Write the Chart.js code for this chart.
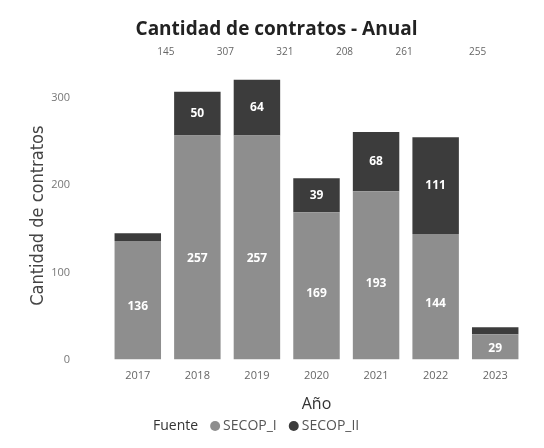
<!DOCTYPE html>
<html>
<head>
<meta charset="utf-8">
<script src="https://cdn.jsdelivr.net/npm/chart.js@4"></script>
<style>
  html, body { margin: 0; padding: 0; background: #fff; }
  #wrap { width: 544px; height: 448px; position: relative; }
</style>
</head>
<body>
<div id="wrap"><canvas id="myChart" width="544" height="448"></canvas></div>
<script>
const years = ['2017', '2018', '2019', '2020', '2021', '2022', '2023'];
const secopI = [136, 257, 257, 169, 193, 144, 29];
const secopII = [9, 50, 64, 39, 68, 111, 8];
const yTicks = [0, 100, 200, 300];

const colorI = '#8e8e8e';
const colorII = '#3c3c3c';

// white value labels inside segments + totals row under the title
const labelsPlugin = {
    id: 'labels',
    afterDatasetsDraw(chart) {
        const ctx = chart.ctx;
        ctx.save();
        ctx.font = 'bold 12px "Open Sans", sans-serif';
        ctx.fillStyle = '#ffffff';
        ctx.textAlign = 'center';
        ctx.textBaseline = 'middle';
        chart.data.datasets.forEach((ds, di) => {
            chart.getDatasetMeta(di).data.forEach((bar, i) => {
                const h = Math.abs(bar.base - bar.y);
                if (h < 20) return;
                const y = di === 0 ? bar.y + h * 0.55 : (bar.y + bar.base) / 2;
                ctx.fillText(String(ds.data[i]), bar.x, y);
            });
        });
        // totals row
        ctx.font = '10px "Open Sans", sans-serif';
        ctx.fillStyle = '#666';
        const meta = chart.getDatasetMeta(0);
        for (let i = 0; i < years.length - 1; i++) {
            const total = secopI[i] + secopII[i];
            const dx = i === years.length - 2 ? 42 : 28;
            ctx.fillText(String(total), meta.data[i].x + dx, 52);
        }
        ctx.restore();
    },
    afterDraw(chart) {
        // legend: "Fuente  ● SECOP_I  ● SECOP_II"
        const ctx = chart.ctx;
        ctx.save();
        ctx.font = '14px "Open Sans", sans-serif';
        ctx.textBaseline = 'middle';
        ctx.textAlign = 'left';
        let x = 153;
        const y = 426;
        ctx.fillStyle = '#333';
        ctx.fillText('Fuente', x, y);
        x += ctx.measureText('Fuente').width + 12;
        chart.data.datasets.forEach(ds => {
            ctx.fillStyle = ds.backgroundColor;
            ctx.beginPath();
            ctx.arc(x + 5, y, 5, 0, Math.PI * 2);
            ctx.fill();
            x += 13;
            ctx.fillStyle = '#555';
            ctx.fillText(ds.label, x, y);
            x += ctx.measureText(ds.label).width + 12;
        });
        ctx.restore();
    }
};

const ctx = document.getElementById('myChart').getContext('2d');
new Chart(ctx, {
    type: 'bar',
    data: {
        labels: years,
        datasets: [
            { label: 'SECOP_I', data: secopI, backgroundColor: colorI },
            { label: 'SECOP_II', data: secopII, backgroundColor: colorII }
        ]
    },
    options: {
        responsive: false,
        animation: false,
        categoryPercentage: 0.78,
        barPercentage: 1,
        layout: { padding: { left: 28, right: 19, top: 0, bottom: 34 } },
        scales: {
            x: {
                stacked: true,
                grid: { display: false, drawTicks: false },
                border: { display: false },
                ticks: { color: '#666', font: { size: 11, family: '"Open Sans", sans-serif' }, padding: 10 },
                title: { display: true, text: 'Año', color: '#333', font: { size: 16, family: '"Open Sans", sans-serif' }, padding: { top: 2, bottom: 0 } }
            },
            y: {
                stacked: true,
                min: 0,
                max: 330,
                afterBuildTicks(scale) { scale.ticks = yTicks.map(v => ({ value: v })); },
                afterFit(scale) { scale.width = 80; },
                grid: { display: false, drawTicks: false },
                border: { display: false },
                ticks: { color: '#777', font: { size: 11, family: '"Open Sans", sans-serif' }, padding: 38 },
                title: { display: true, text: 'Cantidad de contratos', color: '#444', font: { size: 18, family: '"DejaVu Sans Condensed", "Liberation Sans Narrow", sans-serif' }, padding: 0 }
            }
        },
        plugins: {
            legend: { display: false },
            tooltip: { enabled: false },
            title: {
                display: true,
                text: 'Cantidad de contratos - Anual',
                color: '#222',
                font: { size: 19, weight: 'bold', family: '"Open Sans", sans-serif' },
                padding: { top: 18, bottom: 31 }
            }
        }
    },
    plugins: [labelsPlugin]
});
</script>
</body>
</html>
